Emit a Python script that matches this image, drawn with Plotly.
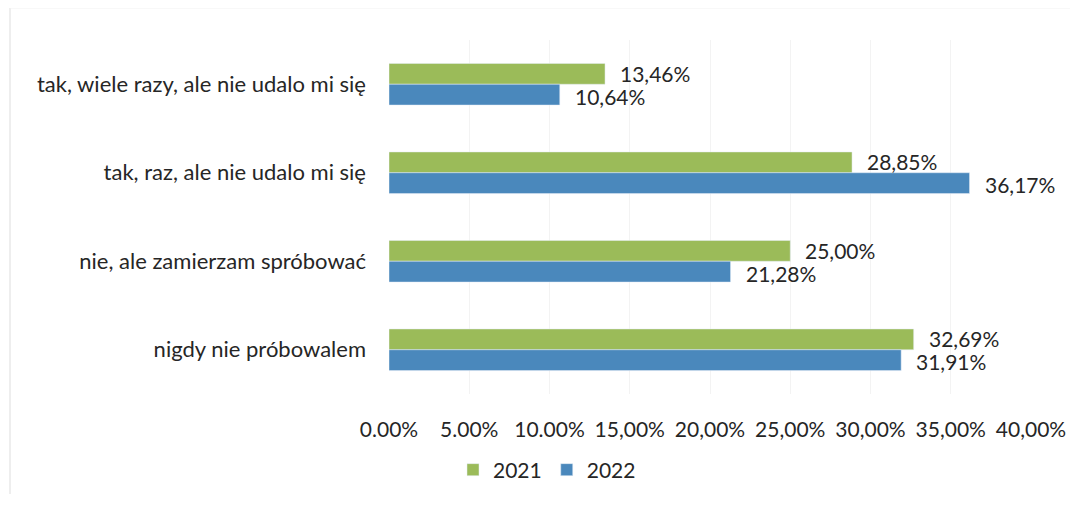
import plotly.graph_objects as go

categories = ["tak, wiele razy, ale nie udalo mi się",
              "tak, raz, ale nie udalo mi się",
              "nie, ale zamierzam spróbować",
              "nigdy nie próbowalem"]
values_2021 = [13.46, 28.85, 25.00, 32.69]
values_2022 = [10.64, 36.17, 21.28, 31.91]
tick_vals = [0, 5, 10, 15, 20, 25, 30, 35, 40]
tick_text = ["0.00%", "5.00%", "10.00%", "15,00%", "20,00%", "25,00%", "30,00%", "35,00%", "40,00%"]

def fmt(v):
    return f"{v:.2f}".replace(".", ",") + "%"

FONT = "Lato"
TXT = "#262626"
FS = 22
FS_T = 21

fig = go.Figure()
fig.add_trace(go.Bar(name="2021", y=categories, x=values_2021, orientation="h",
                     marker_color="#9BBB59"))
fig.add_trace(go.Bar(name="2022", y=categories, x=values_2022, orientation="h",
                     marker_color="#4A88BC"))

annotations = []
for c, v in zip(categories, values_2021):
    annotations.append(dict(x=v, y=c, xref="x", yref="y", text=fmt(v), showarrow=False,
                            xanchor="left", yanchor="middle", xshift=13, yshift=11,
                            font=dict(family=FONT, size=FS_T, color=TXT)))
for c, v in zip(categories, values_2022):
    annotations.append(dict(x=v, y=c, xref="x", yref="y", text=fmt(v), showarrow=False,
                            xanchor="left", yanchor="middle", xshift=13, yshift=-12,
                            font=dict(family=FONT, size=FS_T, color=TXT)))

# page is offset by the 8px body margin
W, H = 1073, 490
L, T = 381, 32
PW = 642
PH = 354

fig.update_layout(
    width=W, height=H,
    barmode="group", bargap=0.53, bargroupgap=0,
    paper_bgcolor="white", plot_bgcolor="white",
    margin=dict(l=L, r=W - L - PW, t=T, b=H - T - PH, autoexpand=False),
    font=dict(family=FONT, size=FS, color=TXT),
    annotations=annotations,
    legend=dict(orientation="h", xref="container", yref="container",
                x=(547 - 8) / W, y=1 - (470 - 8) / H, xanchor="center", yanchor="middle",
                font=dict(family=FONT, size=FS_T, color=TXT), traceorder="normal",
                itemwidth=30),
    xaxis=dict(range=[0, 40], tickvals=tick_vals, ticktext=tick_text,
               showgrid=True, gridcolor="#f3f3f3", zeroline=False,
               showline=False, ticklabelstandoff=21,
               tickfont=dict(family=FONT, size=FS_T, color=TXT)),
    yaxis=dict(autorange="reversed", showgrid=False, showline=False,
               ticklabelstandoff=22,
               tickfont=dict(family=FONT, size=FS, color=TXT)),
    shapes=[
        dict(type="line", xref="paper", yref="paper",
             x0=-(L - 2) / PW, x1=-(L - 2) / PW, y0=-(H - T - PH - 4) / PH, y1=(394 - 8) / PH,
             line=dict(color="#eeeeee", width=2), layer="below"),
        dict(type="line", xref="paper", yref="paper",
             x0=-(L - 2) / PW, x1=(1070 - 389) / PW, y0=(394 - 8) / PH, y1=(394 - 8) / PH,
             line=dict(color="#f2f2f2", width=1), layer="below"),
    ],
)

fig.write_html("out.html")
